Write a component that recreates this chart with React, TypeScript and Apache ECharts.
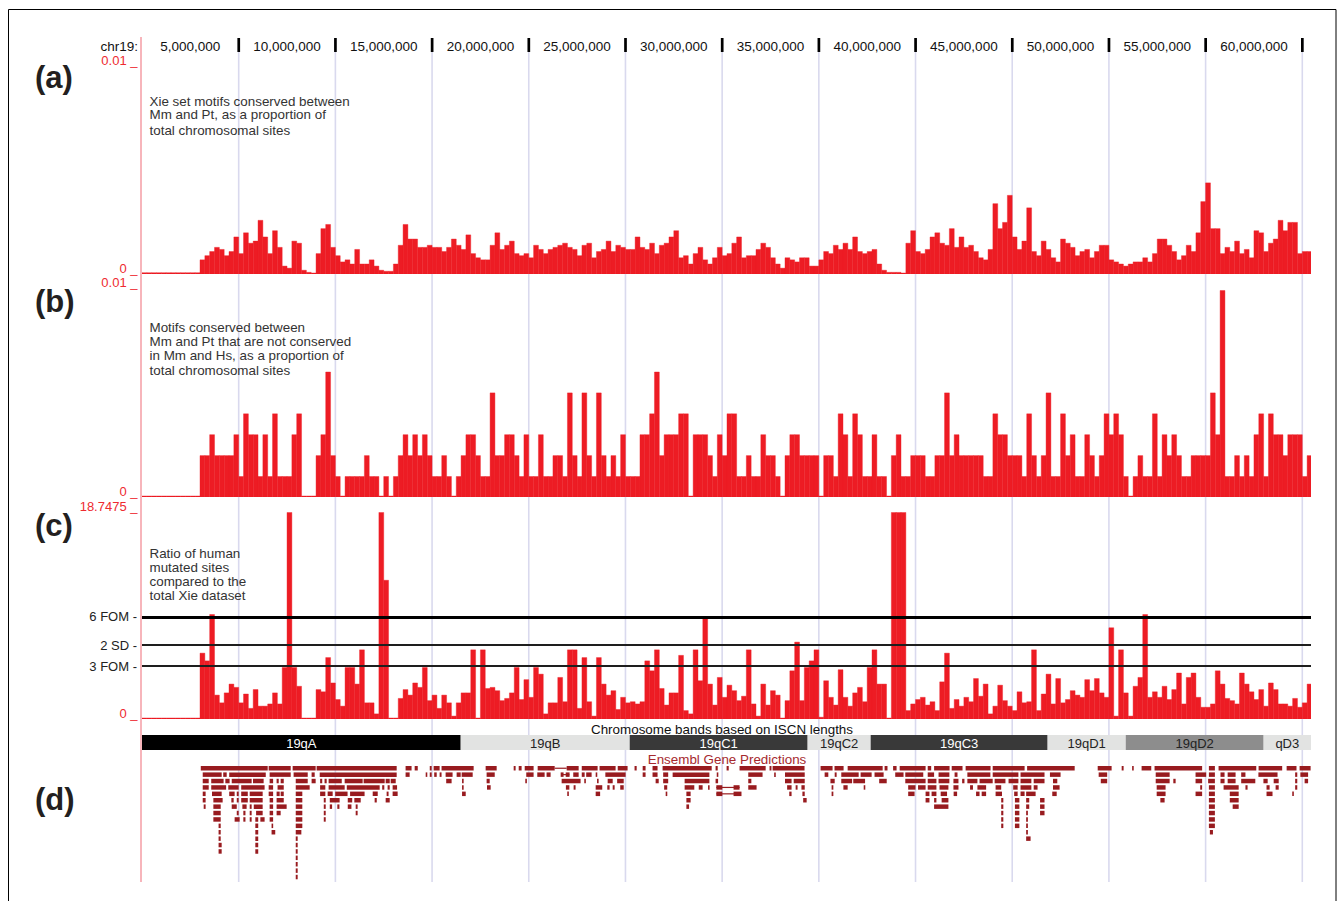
import React, { useEffect, useRef } from 'react';
import * as echarts from 'echarts';

const FONT = '"Liberation Sans", Arial, Helvetica, sans-serif';
const BAR_RED = '#ed1c24';
const LABEL_RED = '#ee2a30';
const GENE_RED = '#981b1f';
const GRID_LAV = '#d9d9ee';

// genomic axis (Mb)
const X_MAX = 60.45;
const BIN_MB = 0.25;
const rulerTicks = [5, 10, 15, 20, 25, 30, 35, 40, 45, 50, 55, 60];
const RULER_STEP = 5;

// (a) proportion, in units of 1e-4, one value per 250 kb bin
const trackA_e4 = [
  0.8, 0.8, 0.8, 0.8, 0.8, 0.8, 0.8, 0.8, 0.8, 0.8, 0.8, 0.8,
  7, 9, 11, 13, 12, 9, 11, 18, 10, 20,
  15, 16, 26, 18, 10, 21, 13, 4, 3, 16,
  15, 2, 1, 0.5, 10, 22, 24, 13, 9, 6,
  7, 5, 12, 5, 5, 7, 4, 2, 1.5, 1.5,
  5, 14, 24, 17, 17, 13, 13, 14, 13, 13,
  11, 13, 17, 14, 12, 19, 10, 8, 7, 7,
  14, 20, 12, 14, 16, 10, 9, 10, 8, 14,
  12, 10, 12, 13, 14, 15, 13, 12, 9, 14,
  15, 8, 11, 12, 16, 11, 14, 13, 12, 12,
  18, 13, 12, 15, 10, 14, 15, 18, 21, 8,
  9, 5, 10, 13, 7, 5, 8, 13, 9, 10,
  15, 18, 8, 9, 9, 12, 15, 13, 8, 5,
  3, 8, 7, 6, 8, 8, 4, 4, 7, 11,
  10, 14, 12, 15, 12, 18, 11, 10, 11, 12,
  5, 2, 1, 1, 1, 0.5, 15, 21, 11, 10,
  12, 18, 20, 15, 14, 22, 13, 18, 13, 14,
  11, 8, 7, 12, 34, 22, 25, 38, 18, 12,
  16, 32, 11, 9, 16, 12, 8, 6, 17, 15,
  13, 9, 11, 12, 8, 11, 14, 14, 7, 6,
  5, 4, 5, 6, 6, 8, 6, 10, 17, 17,
  14, 11, 7, 9, 14, 11, 20, 35, 44, 22,
  22, 10, 13, 11, 16, 10, 12, 8, 21, 20,
  11, 15, 17, 26, 21, 25, 25, 10, 11, 11,
];

// (b) proportion, in units of 1e-3
const trackB_e3 = [
  0, 0, 0, 0, 0, 0, 0, 0, 0, 0, 0, 0,
  2, 2, 3, 2, 2, 2, 2, 3, 1, 4,
  3, 3, 1, 3, 1, 4, 1, 1, 1, 3,
  4, 0, 0, 0, 2, 3, 6, 2, 1, 0,
  1, 1, 1, 1, 2, 1, 1, 0, 1, 0,
  1, 2, 3, 2, 3, 2, 3, 2, 1, 1,
  2, 1, 0, 1, 2, 3, 3, 2, 1, 1,
  5, 2, 2, 3, 3, 2, 1, 3, 1, 1,
  3, 1, 1, 2, 2, 1, 5, 2, 1, 5,
  2, 1, 5, 2, 1, 2, 1, 3, 1, 1,
  1, 3, 3, 4, 6, 2, 3, 3, 3, 4,
  4, 0, 3, 3, 3, 2, 1, 3, 2, 4,
  4, 1, 1, 2, 1, 1, 3, 2, 2, 1,
  0, 2, 3, 3, 2, 2, 2, 2, 0, 2,
  2, 1, 4, 3, 1, 4, 3, 1, 1, 3,
  1, 1, 0, 2, 3, 1, 1, 2, 2, 2,
  1, 1, 2, 2, 5, 2, 3, 2, 2, 2,
  2, 2, 1, 1, 4, 3, 3, 2, 2, 2,
  1, 4, 2, 1, 2, 5, 1, 1, 4, 2,
  3, 1, 1, 3, 2, 1, 2, 4, 3, 4,
  3, 1, 0, 1, 2, 1, 1, 4, 1, 3,
  2, 3, 2, 1, 1, 2, 2, 2, 2, 5,
  3, 9.9, 1, 1, 2, 1, 2, 1, 3, 4,
  1, 4, 3, 3, 2, 3, 3, 3, 1, 2,
];

// (c) ratio
const C_MAX = 18.7475;
const trackC = [
  0.05, 0.05, 0.05, 0.05, 0.05, 0.05, 0.05, 0.05, 0.05, 0.05, 0.05, 0.05,
  6, 5.3, 9.5, 2.2, 1.5, 2.4, 3.2, 2.9, 1.5, 2.3,
  1, 2.7, 1.2, 1.2, 1.4, 2.4, 1.4, 4.7, 18.7475, 4.7,
  3, 0, 0, 0, 2.7, 2.5, 5.6, 3.3, 1.8, 1.2,
  4.7, 4.7, 3.2, 6.3, 1.5, 1.5, 0.5, 18.7475, 12.6, 0.1,
  0.1, 1.9, 2.7, 2.2, 3.3, 2.9, 4.7, 1.7, 2.2, 1,
  2.2, 1.5, 0.3, 1.5, 2.4, 2.4, 6.3, 0, 6.3, 2.8,
  2.9, 2.6, 1.7, 1.9, 2.4, 4.7, 1.8, 3.6, 2, 4.7,
  4.1, 0.5, 1.5, 1.5, 3.8, 1.6, 6.3, 6.3, 1, 5.6,
  1.6, 0.3, 5.6, 3.2, 2.2, 2.6, 0.9, 2, 1.5, 1.6,
  1.4, 1.6, 5.3, 4.4, 6.3, 2.8, 1.3, 2.4, 2.4, 5.8,
  0.8, 0.5, 6.3, 3.5, 9.1, 3.2, 1.3, 3.8, 2, 3.1,
  2.6, 1.7, 2.1, 6.3, 1.4, 0.3, 3.2, 1.3, 2.6, 2.2,
  0, 1.7, 4.4, 7, 1.7, 4.7, 5.3, 6.3, 0.2, 3.5,
  2, 1.3, 4.5, 2, 1.2, 2.4, 2.9, 1.6, 4.7, 6.3,
  3.2, 3.2, 0, 18.7475, 18.7475, 18.7475, 0.8, 1.4, 1.8, 2,
  1.3, 1.6, 0.8, 3.4, 6, 1, 1.8, 1.2, 2, 1.6,
  3.7, 2.1, 3.2, 0.5, 1.2, 3.1, 1.7, 1.2, 0.8, 2.5,
  1.5, 1.6, 6.3, 0.8, 2.3, 4.1, 1.4, 3.7, 1.5, 1.8,
  2.6, 2.2, 2, 3.6, 2.6, 3.7, 2.4, 2, 8.3, 0.3,
  6.3, 2.4, 0.3, 3, 3.8, 9.5, 2, 2.5, 2, 3,
  1.8, 2.7, 4.2, 1.4, 3.8, 4.2, 2, 1.1, 1.1, 1.4,
  4.4, 3.2, 1.9, 1.7, 1.4, 4.2, 3.2, 2.5, 1.8, 2.7,
  1.2, 3.3, 2.7, 1.4, 1.4, 1.2, 1.9, 1.1, 1.5, 3.2,
];

const thresholdNames = ['6 FOM', '2 SD', '3 FOM'];
const thresholdValues = [9.24, 6.7, 4.8];

// chromosome bands (Mb)
const bandNames = ['19qA', '19qB', '19qC1', '19qC2', '19qC3', '19qD1', '19qD2', 'qD3'];
const bandStarts = [0, 16.48, 25.22, 34.42, 37.68, 46.83, 50.87, 58.0];
const bandEnds = [16.48, 25.22, 34.42, 37.68, 46.83, 50.87, 58.0, 60.45];
const bandFill = ['#000000', '#e2e3e2', '#393939', '#e2e3e2', '#393939', '#e2e3e2', '#8d8d8d', '#e2e3e2'];
const bandText = ['#ffffff', '#222222', '#ffffff', '#222222', '#ffffff', '#222222', '#222222', '#222222'];

// Ensembl gene predictions, rows of [start, end] in Mb
const geneRow0 = [[3.04,6.50],[6.55,7.69],[7.79,8.98],[9.03,13.17],[13.63,13.94],[14.10,14.26],[14.88,14.98],[15.08,15.39],[15.49,17.15],[17.77,18.34],[19.22,19.32],[19.48,19.63],[19.79,20.25],[20.46,21.34],[21.96,22.58],[22.74,23.56],[23.66,24.49],[24.60,25.11],[25.47,25.58],[25.89,26.04],[26.40,26.66],[26.92,29.46],[29.66,29.77],[30.23,30.34],[30.90,32.25],[32.45,32.55],[32.61,34.26],[35.09,35.71],[35.81,36.28],[36.49,38.30],[38.40,38.55],[38.84,39.02],[39.18,40.52],[40.63,40.81],[40.96,41.76],[41.87,42.43],[42.59,43.88],[43.99,45.64],[45.77,48.23],[49.42,50.14],[50.66,50.76],[51.20,51.28],[51.69,52.19],[52.36,54.82],[55.17,55.48],[55.67,57.62],[57.74,58.96],[59.19,59.70],[59.86,60.43]];
const geneRow1 = [[3.14,4.12],[4.20,4.38],[4.51,6.40],[6.60,7.69],[7.84,8.57],[8.77,8.93],[9.19,13.17],[13.63,13.84],[14.67,14.72],[14.88,14.98],[15.11,15.24],[15.39,15.49],[15.70,16.06],[16.27,16.48],[16.53,17.10],[17.82,18.24],[19.87,20.25],[20.44,20.82],[20.92,21.13],[21.65,21.80],[21.91,22.11],[22.30,22.58],[22.74,22.89],[22.97,23.25],[23.46,23.51],[23.96,25.01],[25.89,26.04],[26.40,26.66],[26.95,27.21],[27.44,29.34],[29.72,29.79],[31.35,32.09],[32.69,32.76],[33.25,34.27],[35.30,35.49],[35.82,35.92],[36.16,37.06],[37.16,37.73],[37.88,38.35],[38.95,39.38],[39.47,40.40],[40.63,40.96],[41.19,41.75],[42.02,42.17],[42.68,43.87],[43.99,45.32],[45.43,46.67],[46.95,47.50],[49.47,49.91],[52.42,53.14],[54.48,55.03],[55.17,55.48],[55.77,55.98],[56.14,56.55],[56.84,57.06],[57.73,58.72],[59.63,59.74],[59.90,60.30]];
const geneRow2 = [[3.14,3.45],[3.58,4.22],[4.31,4.53],[4.64,5.67],[5.74,6.29],[6.60,6.78],[6.96,7.07],[7.17,7.33],[7.95,8.57],[8.77,8.98],[9.21,9.32],[9.44,9.55],[9.65,10.33],[10.48,11.41],[11.46,12.55],[12.60,12.81],[12.86,13.12],[15.73,16.01],[16.55,16.63],[17.82,17.98],[19.82,19.89],[21.70,22.68],[22.87,22.94],[23.53,23.61],[24.08,24.34],[24.57,24.91],[26.56,26.72],[26.95,27.21],[28.06,29.34],[29.66,29.79],[31.35,31.51],[33.25,33.59],[33.70,34.27],[35.60,35.82],[36.16,36.72],[36.78,37.39],[38.12,38.51],[39.47,40.52],[40.63,41.08],[41.19,41.75],[41.96,42.22],[42.41,42.53],[42.68,43.20],[43.31,43.99],[44.09,44.65],[44.81,45.32],[45.43,45.99],[46.11,46.67],[47.11,47.33],[49.58,49.91],[52.42,53.14],[53.33,53.45],[54.48,54.82],[55.13,55.48],[55.77,55.98],[56.14,56.55],[56.84,57.57],[57.99,58.21],[58.52,58.78],[59.63,59.74],[60.12,60.30]];
const geneRow3 = [[3.14,3.45],[3.58,4.35],[4.46,5.00],[5.13,6.34],[6.55,6.78],[7.01,7.33],[7.95,8.67],[9.21,9.48],[9.65,10.48],[10.59,12.29],[12.42,12.53],[12.70,12.81],[12.96,13.19],[16.55,16.63],[17.84,18.03],[21.92,22.10],[22.32,22.42],[23.46,23.80],[24.06,24.18],[24.34,24.44],[24.73,24.91],[27.00,27.16],[28.06,28.56],[28.79,28.99],[29.27,29.34],[29.70,30.01],[30.59,30.90],[31.35,31.78],[33.36,33.59],[33.80,33.90],[34.10,34.27],[35.66,35.75],[36.27,36.49],[37.32,37.39],[39.62,40.00],[40.13,40.52],[40.63,41.08],[41.24,41.70],[41.96,42.22],[42.82,42.97],[43.20,43.65],[44.14,44.43],[45.05,45.28],[45.43,45.99],[46.11,46.31],[47.11,47.45],[52.47,52.93],[54.72,54.82],[55.17,55.48],[55.93,56.71],[57.06,57.17],[58.15,58.31],[58.62,58.78],[59.63,59.74]];
const geneRow4 = [[3.14,3.29],[3.62,4.12],[4.51,4.79],[4.90,5.00],[5.13,5.47],[5.57,6.24],[6.55,6.78],[6.96,7.12],[7.17,7.33],[7.95,8.29],[9.21,9.48],[9.60,9.86],[9.99,10.63],[10.76,11.51],[11.93,12.19],[12.65,12.75],[12.96,13.22],[16.55,16.74],[21.99,22.06],[23.46,23.69],[27.08,27.16],[28.15,28.37],[29.70,30.01],[30.59,31.00],[33.47,33.59],[34.15,34.27],[35.66,35.75],[39.62,39.95],[40.52,40.72],[40.83,41.08],[41.30,41.63],[41.97,42.15],[43.13,43.31],[43.42,43.65],[44.14,44.47],[45.10,45.28],[45.43,45.64],[45.72,46.21],[47.07,47.30],[52.47,52.93],[54.48,54.82],[55.17,55.48],[56.25,56.71],[58.15,58.46],[59.48,59.55]];
const geneRow5 = [[3.14,3.29],[3.69,4.17],[4.62,4.74],[4.90,5.00],[5.13,5.47],[5.57,6.24],[6.60,6.78],[6.96,7.33],[7.95,8.29],[9.40,9.50],[9.71,10.22],[10.64,10.87],[10.98,11.31],[12.03,12.14],[12.60,12.81],[28.15,28.37],[34.19,34.37],[40.52,40.72],[40.96,41.08],[41.35,41.70],[44.43,44.54],[45.14,45.37],[45.72,45.88],[46.44,46.67],[52.66,52.88],[55.17,55.48],[56.25,56.71]];
const geneRow6 = [[3.19,3.29],[3.69,4.07],[4.64,4.90],[5.19,5.41],[5.57,5.67],[5.78,6.24],[6.60,6.78],[6.96,7.48],[7.95,8.29],[9.40,9.50],[9.71,9.83],[10.10,10.21],[10.64,10.83],[11.05,11.15],[28.15,28.29],[40.96,41.70],[44.43,44.54],[45.14,45.37],[45.72,45.88],[46.44,46.67],[55.17,55.48],[56.40,56.71]];
const geneRow7 = [[3.69,4.07],[4.90,5.00],[5.24,5.35],[5.57,5.67],[5.90,6.24],[6.60,6.78],[6.96,7.17],[7.95,8.29],[9.40,9.50],[11.05,11.15],[44.43,44.54],[45.14,45.37],[45.72,45.81],[46.44,46.67],[55.17,55.48]];
const geneRow8 = [[3.69,4.07],[4.79,5.05],[5.24,5.35],[5.57,5.67],[5.86,6.01],[6.12,6.34],[6.60,6.78],[7.95,8.29],[9.40,9.50],[44.43,44.54],[45.14,45.37],[45.72,45.81],[55.17,55.48]];
const geneRow9 = [[3.96,4.07],[5.86,6.01],[6.70,6.78],[7.95,8.29],[44.43,44.54],[45.14,45.37],[45.72,45.81],[55.17,55.48]];
const geneRow10 = [[3.96,4.07],[5.86,6.01],[6.70,6.89],[7.95,8.24],[45.72,45.81],[55.22,55.38]];
const geneRow11 = [[3.96,4.07],[5.86,6.01],[7.95,8.05],[45.72,45.95]];
const geneRow12 = [[3.96,4.12],[5.86,6.01],[7.95,8.05]];
const geneRow13 = [[3.96,4.12],[5.86,6.01],[7.95,8.05]];
const geneRow14 = [[7.95,8.05]];
const geneRow15 = [[7.95,8.05]];
const geneRow16 = [[7.95,8.05]];
const geneRow17 = [[7.95,8.05]];
const geneRows = [geneRow0, geneRow1, geneRow2, geneRow3, geneRow4, geneRow5, geneRow6, geneRow7, geneRow8, geneRow9, geneRow10, geneRow11, geneRow12, geneRow13, geneRow14, geneRow15, geneRow16, geneRow17];
// thin intron connectors [start, end, row]
const geneIntrons = [[21.34, 21.96, 0], [29.70, 30.90, 3], [29.70, 30.90, 4], [21.70, 22.10, 1]];

const descA = ['Xie set motifs conserved between', 'Mm and Pt, as a proportion of', 'total chromosomal sites'];
const descB = ['Motifs conserved between', 'Mm and Pt that are not conserved', 'in Mm and Hs, as a proportion of', 'total chromosomal sites'];
const descC = ['Ratio of human', 'mutated sites', 'compared to the', 'total Xie dataset'];

const binData = (vals: number[], scale: number) =>
  vals.map((v, i) => [i * BIN_MB, (i + 1) * BIN_MB, v * scale]);

const makeBarRender = (maxV: number) => (_p: any, api: any) => {
  const s = api.value(0);
  const e = api.value(1);
  const v = Math.min(api.value(2), maxV);
  const p0 = api.coord([s, 0]);
  const p1 = api.coord([e, v]);
  const h = Math.max(p0[1] - p1[1], 1.4);
  return {
    type: 'rect',
    shape: { x: p0[0], y: p0[1] - h + 0.4, width: p1[0] - p0[0], height: h },
    style: { fill: BAR_RED, stroke: BAR_RED, lineWidth: 0.4 },
  };
};

const fmtPos = (v: number) => (v * 1e6).toLocaleString('en-US');

export default function App() {
  const ref = useRef<HTMLDivElement>(null);
  useEffect(() => {
    if (!ref.current) return;
    const chart = echarts.init(ref.current, undefined, { renderer: 'svg' });

    const L = 142;
    const W = 1169;
    const grids = [
      { left: L, width: W, top: 38, height: 844 }, // 0 background
      { left: L, width: W, top: 38, height: 14 }, // 1 ruler
      { left: L, width: W, top: 66, height: 208 }, // 2 track a
      { left: L, width: W, top: 288, height: 209 }, // 3 track b
      { left: L, width: W, top: 512, height: 207 }, // 4 track c
      { left: L, width: W, top: 735, height: 15 }, // 5 bands
      { left: L, width: W, top: 766, height: 115.2 }, // 6 genes
    ];
    const xAxes = grids.map((_, i) => ({ type: 'value', gridIndex: i, min: 0, max: X_MAX, show: false }));
    const hiddenY = (i: number, max: number, inverse = false) => ({
      type: 'value', gridIndex: i, min: 0, max, show: false, inverse,
    });
    const trackY = (i: number, max: number) => ({
      type: 'value', gridIndex: i, min: 0, max, interval: max,
      axisLine: { show: false }, axisTick: { show: false }, splitLine: { show: false },
      axisLabel: {
        show: true, margin: 4.5, color: LABEL_RED, fontSize: 13, fontFamily: FONT,
        verticalAlign: 'bottom', lineHeight: 11,
        formatter: (v: number) => `${v} _`,
      },
    });
    const yAxes = [
      hiddenY(0, 1),
      hiddenY(1, 1),
      trackY(2, 0.01),
      trackY(3, 0.01),
      trackY(4, C_MAX),
      hiddenY(5, 1),
      hiddenY(6, 18, true),
    ];

    const geneData: number[][] = [];
    geneRows.forEach((row, r) => row.forEach(([s, e]) => geneData.push([s, e, r])));

    const textEl = (text: string, x: number, y: number, opts: any = {}) => ({
      type: 'text', x, y, z: 20,
      style: {
        text, fill: opts.fill || '#333', fontSize: opts.fontSize || 13.4,
        fontFamily: FONT, fontWeight: opts.fontWeight || 'normal',
        align: opts.align || 'left', textAlign: opts.align || 'left',
        verticalAlign: 'middle', textVerticalAlign: 'middle',
      },
    });

    const graphics: any[] = [
      { type: 'rect', z: 30, shape: { x: 8.5, y: 9.5, width: 1327.5, height: 905 }, style: { fill: 'none', stroke: '#000', lineWidth: 1 } },
      { type: 'line', z: 15, shape: { x1: 141, y1: 37, x2: 141, y2: 882 }, style: { stroke: '#f5a3aa', lineWidth: 1.6 } },
      textEl('(a)', 35, 77, { fontSize: 31, fontWeight: 'bold', fill: '#231f20' }),
      textEl('(b)', 35, 301, { fontSize: 31, fontWeight: 'bold', fill: '#231f20' }),
      textEl('(c)', 35, 525, { fontSize: 31, fontWeight: 'bold', fill: '#231f20' }),
      textEl('(d)', 35, 799, { fontSize: 31, fontWeight: 'bold', fill: '#231f20' }),
      textEl('chr19:', 138, 46.5, { align: 'right', fill: '#111', fontSize: 13.5 }),
      textEl('Chromosome bands based on ISCN lengths', 722, 729.5, { align: 'center', fill: '#111', fontSize: 13.4 }),
      textEl('Ensembl Gene Predictions', 727, 759.5, { align: 'center', fill: '#a6292e', fontSize: 13.4 }),
    ];
    const descYA = [101.7, 114.5, 130];
    const descYB = [327.7, 341.7, 355.2, 370.7];
    const descYC = [553.3, 567, 581, 595.7];
    descA.forEach((t, i) => graphics.push(textEl(t, 149.5, descYA[i])));
    descB.forEach((t, i) => graphics.push(textEl(t, 149.5, descYB[i])));
    descC.forEach((t, i) => graphics.push(textEl(t, 149.5, descYC[i])));

    const option: any = {
      animation: false,
      backgroundColor: '#ffffff',
      grid: grids,
      xAxis: xAxes,
      yAxis: yAxes,
      graphic: graphics,
      series: [
        {
          type: 'custom', name: 'gridlines', xAxisIndex: 0, yAxisIndex: 0, z: 1, silent: true,
          data: rulerTicks.map((v) => [v]), encode: { x: 0 },
          renderItem: (_p: any, api: any) => {
            const v = api.value(0);
            const a = api.coord([v, 1]);
            const b = api.coord([v, 0]);
            return { type: 'line', shape: { x1: a[0], y1: a[1], x2: b[0], y2: b[1] }, style: { stroke: GRID_LAV, lineWidth: 1.6 } };
          },
        },
        {
          type: 'custom', name: 'ruler', xAxisIndex: 1, yAxisIndex: 1, z: 5, silent: true,
          data: rulerTicks.map((v) => [v]), encode: { x: 0 },
          renderItem: (_p: any, api: any) => {
            const v = api.value(0);
            const top = api.coord([v, 1]);
            const bot = api.coord([v, 0]);
            const lab = api.coord([v - RULER_STEP / 2, 0.5]);
            return {
              type: 'group',
              children: [
                { type: 'rect', shape: { x: top[0] - 1.3, y: top[1], width: 2.7, height: bot[1] - top[1] }, style: { fill: '#000' } },
                {
                  type: 'text',
                  style: {
                    text: fmtPos(v), x: lab[0], y: lab[1] + 1.5, fill: '#111', fontSize: 13.5, fontFamily: FONT,
                    align: 'center', verticalAlign: 'middle', textAlign: 'center', textVerticalAlign: 'middle',
                  },
                },
              ],
            };
          },
        },
        {
          type: 'custom', name: 'a', xAxisIndex: 2, yAxisIndex: 2, z: 3, silent: true, clip: true,
          data: binData(trackA_e4, 1e-4), encode: { x: [0, 1], y: 2 },
          renderItem: makeBarRender(0.01),
        },
        {
          type: 'custom', name: 'b', xAxisIndex: 3, yAxisIndex: 3, z: 3, silent: true, clip: true,
          data: binData(trackB_e3, 1e-3), encode: { x: [0, 1], y: 2 },
          renderItem: makeBarRender(0.01),
        },
        {
          type: 'custom', name: 'c', xAxisIndex: 4, yAxisIndex: 4, z: 3, silent: true, clip: true,
          data: binData(trackC, 1), encode: { x: [0, 1], y: 2 },
          renderItem: makeBarRender(C_MAX),
          markLine: {
            silent: true, symbol: 'none', animation: false,
            label: { show: true, position: 'start', formatter: '{b}', color: '#222', fontSize: 13, fontFamily: FONT, distance: 5 },
            emphasis: { disabled: true },
            data: thresholdValues.map((v, i) => ({
              yAxis: v, name: `${thresholdNames[i]} -`,
              lineStyle: { color: i === 0 ? '#000' : '#1e1e1e', width: i === 0 ? 3 : 2.2, type: 'solid' },
            })),
          },
        },
        {
          type: 'custom', name: 'bands', xAxisIndex: 5, yAxisIndex: 5, z: 4, silent: true,
          data: bandStarts.map((s, i) => [s, bandEnds[i], i]), encode: { x: [0, 1] },
          renderItem: (_p: any, api: any) => {
            const i = api.value(2);
            const p0 = api.coord([api.value(0), 1]);
            const p1 = api.coord([api.value(1), 0]);
            return {
              type: 'group',
              children: [
                { type: 'rect', shape: { x: p0[0], y: p0[1], width: p1[0] - p0[0], height: p1[1] - p0[1] }, style: { fill: bandFill[i] } },
                {
                  type: 'text',
                  style: {
                    text: bandNames[i], x: (p0[0] + p1[0]) / 2, y: (p0[1] + p1[1]) / 2 + 0.5, fill: bandText[i],
                    fontSize: 13, fontFamily: FONT,
                    align: 'center', verticalAlign: 'middle', textAlign: 'center', textVerticalAlign: 'middle',
                  },
                },
              ],
            };
          },
        },
        {
          type: 'custom', name: 'genes', xAxisIndex: 6, yAxisIndex: 6, z: 4, silent: true,
          data: geneData, encode: { x: [0, 1], y: 2 },
          renderItem: (_p: any, api: any) => {
            const r = api.value(2);
            const p0 = api.coord([api.value(0), r]);
            const p1 = api.coord([api.value(1), r + 0.7]);
            return {
              type: 'rect',
              shape: { x: p0[0], y: p0[1], width: Math.max(p1[0] - p0[0], 1.6), height: p1[1] - p0[1] },
              style: { fill: GENE_RED },
            };
          },
        },
        {
          type: 'custom', name: 'introns', xAxisIndex: 6, yAxisIndex: 6, z: 4, silent: true,
          data: geneIntrons, encode: { x: [0, 1], y: 2 },
          renderItem: (_p: any, api: any) => {
            const r = api.value(2);
            const p0 = api.coord([api.value(0), r + 0.35]);
            const p1 = api.coord([api.value(1), r + 0.35]);
            return { type: 'rect', shape: { x: p0[0], y: p0[1] - 0.6, width: p1[0] - p0[0], height: 1.2 }, style: { fill: GENE_RED } };
          },
        },
      ],
    };
    chart.setOption(option);
    return () => chart.dispose();
  }, []);

  return (
    <div
      ref={ref}
      style={{ position: 'fixed', left: 0, top: 0, width: 1338, height: 901, background: '#fff' }}
    />
  );
}
